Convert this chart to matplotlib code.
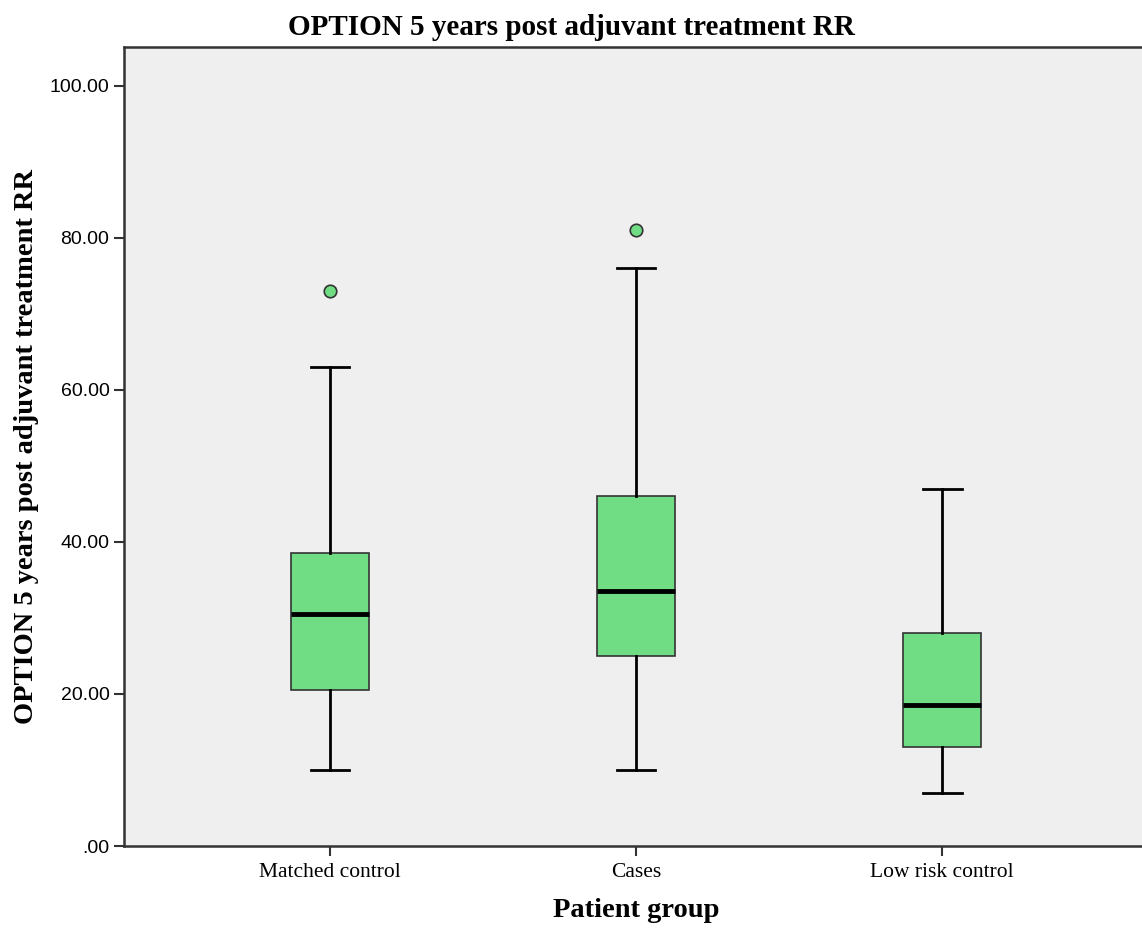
import matplotlib
matplotlib.use("Agg")
import matplotlib.pyplot as plt

# Patient groups and their box summaries (RR score)
groups = ["Matched control", "Cases", "Low risk control"]
whisker_low = [10.0, 10.0, 7.0]
q1 = [20.5, 25.0, 13.0]
median = [30.5, 33.5, 18.5]
q3 = [38.5, 46.0, 28.0]
whisker_high = [63.0, 76.0, 47.0]
outliers = [[73.0], [81.0], []]

yticks = [0, 20, 40, 60, 80, 100]
ytick_labels = [".00", "20.00", "40.00", "60.00", "80.00", "100.00"]

stats = []
for i, g in enumerate(groups):
    stats.append({
        "label": g,
        "whislo": whisker_low[i],
        "q1": q1[i],
        "med": median[i],
        "q3": q3[i],
        "whishi": whisker_high[i],
        "fliers": outliers[i],
    })

fig = plt.figure(figsize=(11.42, 9.33), dpi=100)
ax = fig.add_axes([0.1086, 0.0932, 0.8967, 0.8564])
ax.set_facecolor("#efefef")

green = "#70dc84"
ax.bxp(
    stats,
    positions=[1, 2, 3],
    widths=0.255,
    patch_artist=True,
    boxprops=dict(facecolor=green, edgecolor="#333333", linewidth=1.2),
    medianprops=dict(color="black", linewidth=3.5),
    whiskerprops=dict(color="black", linewidth=2),
    capprops=dict(color="black", linewidth=2),
    flierprops=dict(marker="o", markerfacecolor=green, markeredgecolor="#333333",
                    markersize=9, markeredgewidth=1.2),
    capwidths=0.127,
)

ax.set_xlim(0.327, 3.673)
ax.set_ylim(0, 105.1)
ax.set_yticks(yticks)
ax.set_yticklabels(ytick_labels, fontfamily="Liberation Sans", fontsize=14)
ax.set_xticks([1, 2, 3])
ax.set_xticklabels(groups, fontfamily="Liberation Serif", fontsize=15.5)
ax.tick_params(direction="out", length=7, width=1.5, color="#333333")
ax.tick_params(axis="x", pad=5)

for s in ax.spines.values():
    s.set_linewidth(1.8)
    s.set_color("#333333")

fig.text(0.5, 0.971, "OPTION 5 years post adjuvant treatment RR", ha="center", va="center",
         fontfamily="Liberation Serif", fontweight="bold", fontsize=21)
ax.set_xlabel("Patient group", fontfamily="Liberation Serif", fontweight="bold",
              fontsize=20.5, labelpad=12)
ax.set_ylabel("OPTION 5 years post adjuvant treatment RR", fontfamily="Liberation Serif",
              fontweight="bold", fontsize=20.5, labelpad=8)

fig.savefig("out.png", dpi=100)
